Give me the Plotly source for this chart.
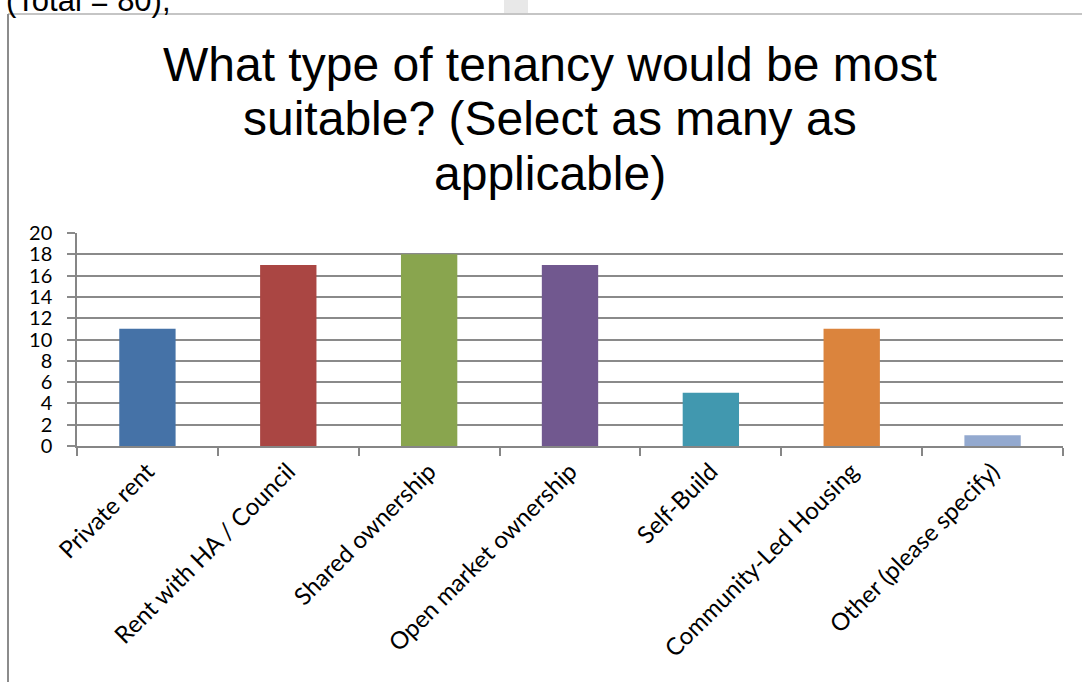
import plotly.graph_objects as go

# Survey responses: preferred tenancy types (multiple answers allowed)
categories = [
    "Private rent",
    "Rent with HA / Council",
    "Shared ownership",
    "Open market ownership",
    "Self-Build",
    "Community-Led Housing",
    "Other (please specify)",
]
responses = [11, 17, 18, 17, 5, 11, 1]
bar_colors = ["#4572A7", "#AA4643", "#89A54E", "#71588F", "#4198AF", "#DB843D", "#93A9CF"]
y_ticks = list(range(0, 21, 2))

title_lines = [
    "What type of tenancy would be most",
    "suitable? (Select as many as",
    "applicable)",
]
note_text = "(Total = 80),"

W, H = 1082, 682
M_L, M_R, M_T, M_B = 77, 19, 233, 236
PLOT_W = W - M_L - M_R
PLOT_H = H - M_T - M_B


def px_x(x):
    """Page pixel column -> paper x."""
    return (x - M_L) / PLOT_W


def px_y(y):
    """Page pixel row -> paper y."""
    return (H - M_B - y) / PLOT_H


GRID = "#8a8a8a"

fig = go.Figure(
    go.Bar(
        x=categories,
        y=responses,
        marker=dict(color=bar_colors, line=dict(width=0)),
        hoverinfo="x+y",
    )
)

fig.update_layout(
    width=W,
    height=H,
    margin=dict(l=M_L, r=M_R, t=M_T, b=M_B, pad=0),
    paper_bgcolor="white",
    plot_bgcolor="white",
    showlegend=False,
    bargap=0.6,
    font=dict(family="Lato, Open Sans, sans-serif", color="black"),
)

fig.update_xaxes(
    showgrid=False,
    showline=True,
    linecolor="#868686",
    linewidth=2,
    ticks="outside",
    tickson="boundaries",
    ticklen=8,
    tickwidth=2,
    tickcolor="#868686",
    tickangle=-45,
    tickfont=dict(family="Lato, sans-serif", size=24, color="black"),
)

fig.update_yaxes(
    range=[0, 20],
    tickvals=y_ticks,
    showgrid=True,
    gridcolor=GRID,
    gridwidth=2,
    zeroline=False,
    showline=True,
    linecolor="#868686",
    linewidth=1.5,
    ticks="outside",
    ticklen=8,
    tickwidth=2,
    tickcolor=GRID,
    ticklabelstandoff=11,
    tickfont=dict(family="Lato, sans-serif", size=20, color="black"),
)

annotations = []
# Chart title, one annotation per line so the line spacing stays tight
for baseline, line in zip([79, 133, 188], title_lines):
    annotations.append(
        dict(
            text=line,
            xref="paper",
            yref="paper",
            x=px_x(550),
            y=px_y(baseline - 15),
            xanchor="center",
            yanchor="middle",
            showarrow=False,
            font=dict(family="Liberation Sans, Arial, sans-serif", size=48, color="black"),
        )
    )

# Running text from the page above the chart frame
annotations.append(
    dict(
        text=note_text,
        xref="paper",
        yref="paper",
        x=px_x(4),
        y=px_y(0),
        xanchor="left",
        yanchor="middle",
        showarrow=False,
        font=dict(family="Liberation Sans, Arial, sans-serif", size=31, color="black"),
    )
)
fig.update_layout(annotations=annotations)

FRAME = "#8c8c8c"
fig.update_layout(
    shapes=[
        # faint page watermark peeking above the frame
        dict(type="rect", xref="paper", yref="paper",
             x0=px_x(504), x1=px_x(528), y0=px_y(13), y1=px_y(-2),
             fillcolor="#e8e8e8", line=dict(width=0), layer="below"),
        # chart frame: top and left edges
        dict(type="line", xref="paper", yref="paper",
             x0=px_x(8), x1=px_x(W + 10), y0=px_y(14), y1=px_y(14),
             line=dict(color=FRAME, width=1.2)),
        dict(type="line", xref="paper", yref="paper",
             x0=px_x(8), x1=px_x(8), y0=px_y(14), y1=px_y(H + 10),
             line=dict(color=FRAME, width=2)),
    ]
)

fig.write_html("out.html")
